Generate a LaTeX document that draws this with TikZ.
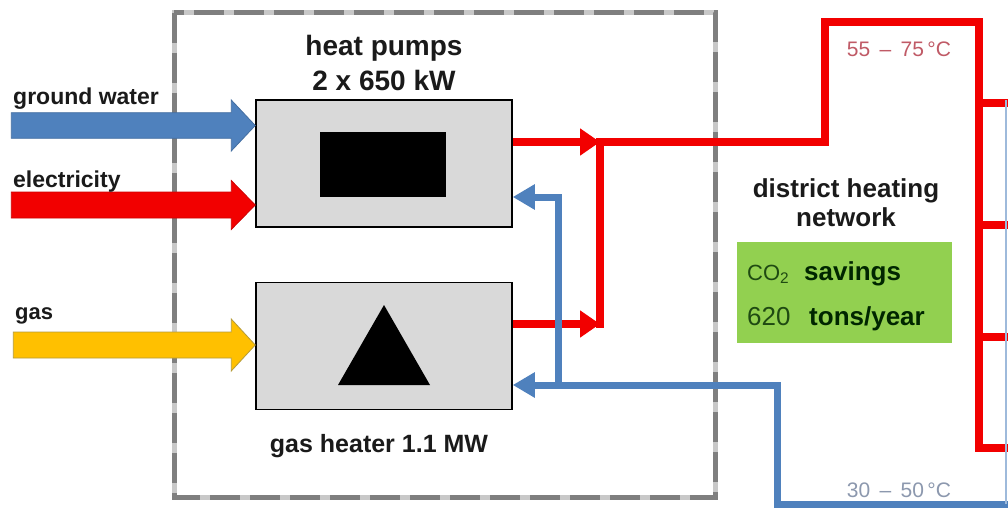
\documentclass[tikz,border=0pt]{standalone}
\usepackage{fontspec}
\setmainfont{Liberation Sans}
\usetikzlibrary{arrows.meta}
\definecolor{pblue}{HTML}{4F81BD}
\definecolor{pred}{HTML}{F20000}
\definecolor{pyel}{HTML}{FFC000}
\definecolor{pyelb}{HTML}{B59B3A}
\definecolor{pgreen}{HTML}{92D050}
\definecolor{pgray}{HTML}{D9D9D9}
\definecolor{hotlbl}{HTML}{C05A66}
\definecolor{coldlbl}{HTML}{8C98AE}
\definecolor{dkgreen}{HTML}{1F4A12}
\definecolor{dashdark}{HTML}{7F7F7F}
\definecolor{dashlight}{HTML}{C8C8C8}
\definecolor{ink}{HTML}{1A1A1A}
\newcommand\blockarrow[5]{%
  \filldraw[#1] (#2) -- +(-24,-#5) -- +(-24,-#4) -- +(-#3,-#4) -- +(-#3,#4)
    -- +(-24,#4) -- +(-24,#5) -- cycle;}
\begin{document}
\begin{tikzpicture}[x=1pt,y=-1pt,
  unit/.style={draw=black, line width=1.5pt, fill=pgray, minimum width=256pt,
    minimum height=127pt, inner sep=0pt},
  hdr/.style={font=\fontsize{28}{35}\selectfont\bfseries, text=ink, align=center, inner sep=0pt},
  lbl/.style={font=\fontsize{23}{27}\selectfont\bfseries, text=ink, anchor=base west, inner sep=0pt},
  temp/.style={font=\fontsize{21}{24}\selectfont, anchor=base, inner sep=0pt},
  hot/.style={draw=pred, line width=8pt},
  cold/.style={draw=pblue, line width=7pt},
  hotarrow/.style={hot, -{Triangle[length=20pt,width=26pt]}},
  coldarrow/.style={cold, -{Triangle[length=22pt,width=24pt]}},
  grn/.style={font=\fontsize{26}{30}\selectfont, anchor=base west, inner sep=0pt},
]
\useasboundingbox (0,0) rectangle (1008,508);
\fill[white] (0,0) rectangle (1008,508);

% site boundary (dashed)
\draw[dashlight, line width=5pt] (174,13) rectangle (715,497);
\draw[dashdark, line width=5pt, dash pattern=on 30pt off 10pt] (174,13) rectangle (715,497);

% units
\node[unit] (hp) at (384,163.5) {};
\node[unit] (gh) at (384,346) {};
\node[fill=black, minimum width=126pt, minimum height=65pt, inner sep=0pt] (hpsym) at (383,164.5) {};
\fill[black] (384,305) -- (430,385) -- (338,385) -- cycle;

\node[hdr] (hptxt) at (384,63) {heat pumps\\2 x 650 kW};
\node[font=\fontsize{25}{30}\selectfont\bfseries, text=ink, anchor=base, inner sep=0pt] (ghtxt) at (379,452) {gas heater 1.1 MW};

% input arrows
\coordinate (gwtip) at ([yshift=38pt]hp.west);
\coordinate (eltip) at ([yshift=-41.5pt]hp.west);
\coordinate (gastip) at ([yshift=1pt]gh.west);
\blockarrow{fill=pblue, draw=pblue!85!black, line width=0.8pt}{gwtip}{244}{12.8}{25.5}
\blockarrow{fill=pred, draw=pred!85!black, line width=0.8pt}{eltip}{244}{13}{24.5}
\blockarrow{fill=pyel, draw=pyelb, line width=0.8pt}{gastip}{242}{13}{26}
\node[lbl] (gwl) at (13,105) {ground water};
\node[lbl] (ell) at (13,187) {electricity};
\node[font=\fontsize{22}{26}\selectfont\bfseries, text=ink, anchor=base west, inner sep=0pt] (gasl) at (15,319) {gas};

% hot supply
\coordinate (j) at (600,142);
\coordinate (j2) at (600,324);
\coordinate (rtop) at (825,22);
\coordinate (rbot) at (979,448);
\draw[hot] (600,138) -- (600,328);
\draw[hotarrow] ([yshift=21.5pt]hp.east) -- (j);
\draw[hotarrow] ([yshift=22pt]gh.east) -- (j2);
\draw[hot, line join=miter] (j) -| (rtop) -| (rbot) -- (1012,448);
\draw[hot] (979,103) -- (1012,103);
\draw[hot] (979,225) -- (1012,225);
\draw[hot] (979,337) -- (1012,337);
\node[temp, text=hotlbl] (hott) at (899,57) {55 \,–\, 75\,°C};

% cold return
\coordinate (b1) at (558,197);
\coordinate (b2) at (558,385);
\coordinate (b3) at (777,385);
\coordinate (bedge) at (1012,504.5);
\draw[coldarrow, line join=miter] (b2) -- (b1) -- ([yshift=-33.5pt]hp.east);
\draw[coldarrow, line join=miter] (bedge) -| (b3) -- ([yshift=-39pt]gh.east);
\draw[pblue!55, line width=2pt] (1006,100) -- (1006,504);
\node[temp, text=coldlbl] (coldt) at (899,497) {30 \,–\, 50\,°C};

% district heating network
\node[font=\fontsize{26}{29}\selectfont\bfseries, text=ink, align=center, inner sep=0pt] (dhn) at (846,203) {district heating\\network};
\node[fill=pgreen, minimum width=215pt, minimum height=101pt, inner sep=0pt] (green) at (844.5,292.5) {};
\node[font=\fontsize{22}{26}\selectfont, text=dkgreen, anchor=base west, inner sep=0pt] (co2) at (747,280) {CO\textsubscript{2}};
\node[grn, font=\fontsize{26}{30}\selectfont\bfseries, text=black!85!green] (sav) at (804,280) {savings};
\node[grn, text=dkgreen] (num) at (747,325) {620};
\node[grn, font=\fontsize{26}{30}\selectfont\bfseries, text=black!85!green] (tons) at (809,325) {tons/year};
\end{tikzpicture}
\end{document}
